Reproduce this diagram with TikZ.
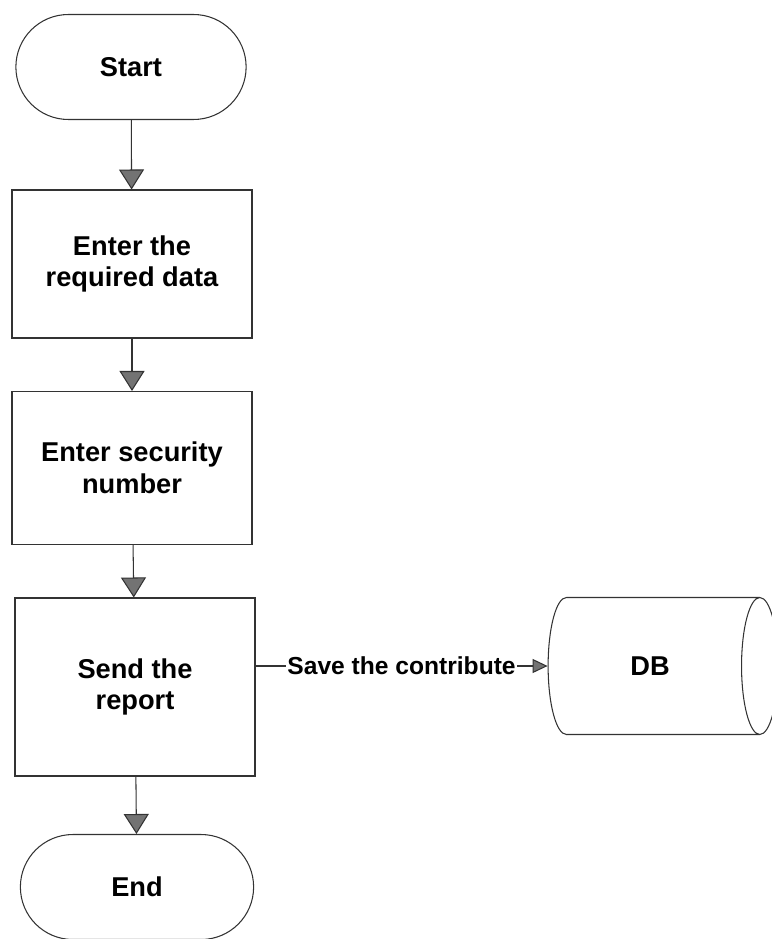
\documentclass[tikz,border=0pt]{standalone}
\usepackage{fontspec}
\setmainfont{Liberation Sans}
\usetikzlibrary{shapes.misc,shapes.geometric,arrows.meta}
\tikzset{
  base/.style={draw=black!80,line width=0.6pt,align=center,
    font=\fontsize{15.5}{18}\selectfont\bfseries},
  terminal/.style={base,rounded rectangle,minimum width=4.84cm,minimum height=2.1cm},
  stepbox/.style={base,rectangle,minimum width=4.8cm},
  store/.style={base,cylinder,aspect=1.2,minimum height=4.6cm,minimum width=2.74cm},
  flow/.style={draw=black!80,line width=0.6pt,
    -{Triangle[width=0.5cm,length=0.4cm,fill=black!55]}},
  smallflow/.style={draw=black!80,line width=0.6pt,
    -{Triangle[width=0.28cm,length=0.3cm,fill=black!55]}}
}
\begin{document}
\begin{tikzpicture}[x=0.02cm,y=-0.02cm]
  \useasboundingbox (0,0) rectangle (771,939);
  \node[terminal] (start) at (131,67) {Start};
  \node[stepbox,minimum height=2.96cm] (enter) at (132,264) {Enter the\\required data};
  \node[stepbox,minimum height=3.06cm] (secnum) at (132,468) {Enter security\\number};
  \node[stepbox,minimum height=3.56cm] (send) at (135,687) {Send the\\report};
  \node[terminal,minimum width=4.9cm] (end) at (137,887) {End};
  \node[store] (db) at (650,666) {DB};
  \begin{scope}
    \draw[flow] (start) to (enter);
    \draw[flow] (enter) to (secnum);
    \draw[flow] (secnum) to (send);
    \draw[flow] (send) to (end);
    \draw[smallflow] (send.east |- db.west) to
      node[fill=white,inner sep=1pt,font=\fontsize{14}{17}\selectfont\bfseries]
      (save) {Save the contribute} (db.west);
  \end{scope}
\end{tikzpicture}
\end{document}
